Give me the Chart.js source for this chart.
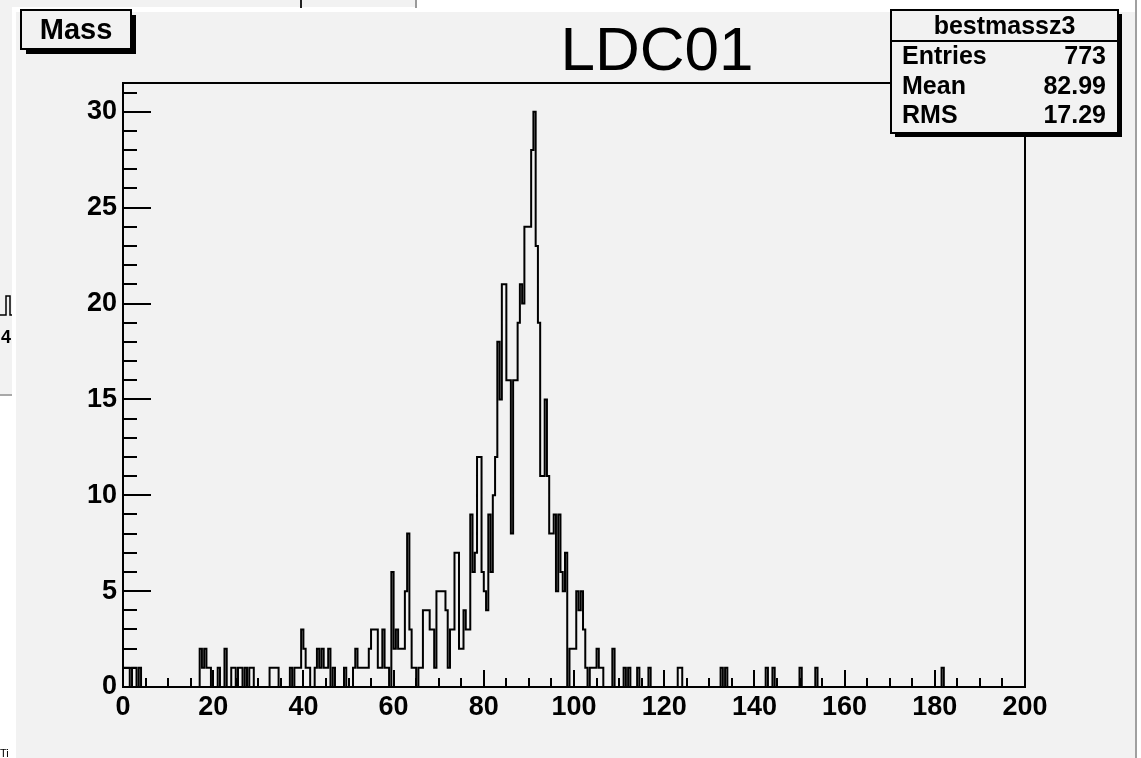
<!DOCTYPE html>
<html>
<head>
<meta charset="utf-8">
<script src="https://cdn.jsdelivr.net/npm/chart.js@4.4.1/dist/chart.umd.min.js"></script>
<style>
  html, body { margin: 0; padding: 0; background: #ffffff; overflow: hidden; }
  canvas { display: block; }
</style>
</head>
<body>
<canvas id="massCanvas" width="1141" height="758" style="width:1141px;height:758px"></canvas>
<script>
// ---- histogram content: bestmassz3, 400 bins of 0.5 GeV over [0, 200) ----
const BIN_WIDTH = 0.5;
const X_MIN = 0;
const X_MAX = 200;
const Y_MAX = 31.5;

// sparse low-mass tail: bin lower edge (GeV) and entries
const lowTailMass   = [0, 0.5, 1, 2, 2.5, 3.5, 17, 17.5, 18, 18.5, 19, 21, 22.5, 24, 24.5, 25.5, 26, 27, 28, 28.5, 32.5, 33, 33.5, 34];
const lowTailCounts = [1, 1,   1, 1, 1,   1,   2,  1,    2,  1,    1,  1,  2,    1,  1,    1,    1,  1,  1,  1,    1,    1,  1,    1];

// contiguous core of the distribution, starting at 37.0 GeV
const coreStartMass = 37.0;
const coreCounts = [
  1, 0, 1, 1, 1, 3, 2, 1, 1, 0,
  0, 1, 2, 1, 2, 1, 1, 2, 0, 1,
  0, 0, 0, 0, 1, 0, 0, 0, 1, 2,
  1, 1, 1, 1, 1, 2, 3, 3, 3, 1,
  1, 3, 1, 1, 0, 6, 2, 3, 2, 2,
  2, 5, 8, 3, 1, 1, 0, 1, 1, 4,
  4, 4, 3, 3, 1, 5, 5, 5, 5, 4,
  1, 3, 3, 7, 7, 2, 2, 4, 3, 3,
  9, 6, 7, 12, 12, 6, 5, 4, 9, 6,
  10, 12, 18, 15, 21, 21, 16, 16, 8, 16,
  16, 19, 21, 20, 24, 24, 24, 28, 30, 23,
  19, 11, 11, 15, 11, 8, 8, 9, 5, 9,
  6, 5, 7, 0, 2, 2, 2, 5, 4, 5,
  3, 1, 0, 1, 1, 1, 2, 1, 1
];

// sparse high-mass tail
const highTailMass   = [108.5, 111, 112, 114, 116.5, 123, 123.5, 132.5, 133.5, 142.5, 144, 150, 153.5, 181.5];
const highTailCounts = [2,     1,   1,   1,   1,     1,   1,     1,     1,     1,     1,   1,   1,     1];

// axis labels and text
const xTickValues = [0, 20, 40, 60, 80, 100, 120, 140, 160, 180, 200];
const yTickValues = [0, 5, 10, 15, 20, 25, 30];
const plotTitle = 'LDC01';
const padLabel = 'Mass';
const histName = 'bestmassz3';
const statNames  = ['Entries', 'Mean', 'RMS'];
const statValues = ['773', '82.99', '17.29'];

// ---- assemble the full bin array and the step outline ----
const nBins = Math.round((X_MAX - X_MIN) / BIN_WIDTH);
const binCounts = new Array(nBins).fill(0);
function addBin(mass, n) { binCounts[Math.round((mass - X_MIN) / BIN_WIDTH)] += n; }
lowTailMass.forEach((m, i) => addBin(m, lowTailCounts[i]));
coreCounts.forEach((n, i) => addBin(coreStartMass + i * BIN_WIDTH, n));
highTailMass.forEach((m, i) => addBin(m, highTailCounts[i]));

const outline = [{ x: X_MIN, y: 0 }];
binCounts.forEach((n, i) => outline.push({ x: X_MIN + i * BIN_WIDTH, y: n }));
outline.push({ x: X_MAX, y: 0 });

const FONT = '"Liberation Sans", Arial, Helvetica, sans-serif';
const PANEL = '#f2f2f2';

// background windows and the ROOT canvas panel
const backdrop = {
  id: 'backdrop',
  beforeDraw(chart) {
    const ctx = chart.ctx;
    ctx.save();
    ctx.fillStyle = '#ffffff';
    ctx.fillRect(0, 0, chart.width, chart.height);
    // window peeking out on the left
    ctx.fillStyle = PANEL;
    ctx.fillRect(0, 7, 12, 388);
    ctx.strokeStyle = '#a8a8a8';
    ctx.lineWidth = 2;
    ctx.beginPath(); ctx.moveTo(0, 395); ctx.lineTo(12, 395); ctx.stroke();
    ctx.strokeStyle = '#000';
    ctx.lineWidth = 1.5;
    ctx.beginPath();
    ctx.moveTo(0, 315); ctx.lineTo(6, 315); ctx.lineTo(6, 296); ctx.lineTo(10, 296); ctx.lineTo(10, 315); ctx.lineTo(12, 315);
    ctx.stroke();
    ctx.fillStyle = '#000';
    ctx.font = 'bold 18px ' + FONT;
    ctx.textBaseline = 'alphabetic';
    ctx.fillText('4', 1, 343);
    // window edges along the top
    ctx.fillStyle = PANEL;
    ctx.fillRect(0, 0, 416, 7);
    ctx.strokeStyle = '#222';
    ctx.lineWidth = 2;
    ctx.beginPath(); ctx.moveTo(301, 0); ctx.lineTo(301, 8); ctx.stroke();
    ctx.strokeStyle = '#9a9a9a';
    ctx.beginPath(); ctx.moveTo(416, 0); ctx.lineTo(416, 8); ctx.stroke();
    // main ROOT canvas
    ctx.fillStyle = PANEL;
    ctx.fillRect(16, 12, 1119, 746);
    ctx.strokeStyle = '#a0a0a0';
    ctx.lineWidth = 2;
    ctx.beginPath(); ctx.moveTo(1136, 0); ctx.lineTo(1136, 758); ctx.stroke();
    // fragment of text bottom-left
    ctx.fillStyle = '#000';
    ctx.font = '11px ' + FONT;
    ctx.fillText('Ti', 0, 757);
    ctx.restore();
  }
};

// frame, inward ticks, title, pad label and statistics box
const rootDecor = {
  id: 'rootDecor',
  afterDatasetsDraw(chart) {
    const { ctx, chartArea: a, scales: { x, y } } = chart;
    ctx.save();
    ctx.strokeStyle = '#000';
    ctx.lineWidth = 2;
    ctx.strokeRect(a.left, a.top, a.right - a.left, a.bottom - a.top);

    ctx.beginPath();
    for (let v = 0; v <= Y_MAX; v += 1) {
      const py = Math.round(y.getPixelForValue(v));
      const len = v % 5 === 0 ? 28 : 14;
      ctx.moveTo(a.left, py); ctx.lineTo(a.left + len, py);
    }
    for (let v = X_MIN; v <= X_MAX; v += 5) {
      const px = Math.round(x.getPixelForValue(v));
      const len = v % 20 === 0 ? 17 : 9;
      ctx.moveTo(px, a.bottom); ctx.lineTo(px, a.bottom - len);
    }
    ctx.stroke();

    // title
    ctx.fillStyle = '#000';
    ctx.font = '62px ' + FONT;
    ctx.textAlign = 'center';
    ctx.textBaseline = 'alphabetic';
    ctx.fillText(plotTitle, 657, 70);

    // pad label box with shadow
    ctx.fillStyle = '#000';
    ctx.fillRect(26, 15, 110, 39);
    ctx.fillStyle = PANEL;
    ctx.fillRect(21, 10, 110, 39);
    ctx.strokeRect(21, 10, 110, 39);
    ctx.fillStyle = '#000';
    ctx.font = 'bold 29px ' + FONT;
    ctx.textBaseline = 'middle';
    ctx.fillText(padLabel, 76, 31);

    // statistics box
    const sx = 891, sy = 10, sw = 227, sh = 123;
    ctx.fillStyle = '#000';
    ctx.fillRect(sx + 4, sy + 4, sw, sh);
    ctx.fillStyle = PANEL;
    ctx.fillRect(sx, sy, sw, sh);
    ctx.strokeRect(sx, sy, sw, sh);
    ctx.beginPath(); ctx.moveTo(sx, 41); ctx.lineTo(sx + sw, 41); ctx.stroke();
    ctx.fillStyle = '#000';
    ctx.font = 'bold 25px ' + FONT;
    ctx.textAlign = 'center';
    ctx.fillText(histName, sx + sw / 2, 27);
    const rowY = [57, 87, 116];
    statNames.forEach((name, i) => {
      ctx.textAlign = 'left';
      ctx.fillText(name, 902, rowY[i]);
      ctx.textAlign = 'right';
      ctx.fillText(statValues[i], 1106, rowY[i]);
    });
    ctx.restore();
  }
};

const tickFont = { family: FONT, size: 27, weight: 'bold' };

new Chart(document.getElementById('massCanvas'), {
  type: 'line',
  data: {
    datasets: [{
      label: histName,
      data: outline,
      stepped: true,
      borderColor: '#000',
      borderWidth: 2,
      pointRadius: 0,
      fill: false,
      tension: 0,
      clip: 4
    }]
  },
  options: {
    responsive: false,
    animation: false,
    devicePixelRatio: 1,
    layout: { padding: { left: 0, top: 83, right: 116, bottom: 0 } },
    plugins: {
      legend: { display: false },
      tooltip: { enabled: false },
      title: { display: false }
    },
    scales: {
      x: {
        type: 'linear',
        min: X_MIN,
        max: X_MAX,
        afterBuildTicks: s => { s.ticks = xTickValues.map(v => ({ value: v })); },
        afterFit: s => { s.height = 71; },
        grid: { display: false, drawTicks: false },
        border: { display: false },
        ticks: { padding: 4, maxRotation: 0, autoSkip: false, color: '#000', font: tickFont }
      },
      y: {
        type: 'linear',
        min: 0,
        max: Y_MAX,
        afterBuildTicks: s => { s.ticks = yTickValues.map(v => ({ value: v })); },
        afterFit: s => { s.width = 123; },
        grid: { display: false, drawTicks: false },
        border: { display: false },
        ticks: { padding: 6, autoSkip: false, color: '#000', font: tickFont }
      }
    }
  },
  plugins: [backdrop, rootDecor]
});
</script>
</body>
</html>
